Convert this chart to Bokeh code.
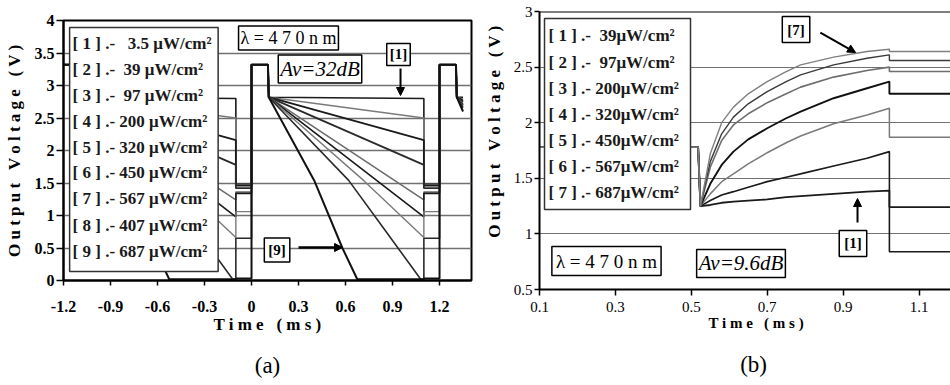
from bokeh.plotting import figure
from bokeh.layouts import row
from bokeh.models import (Range1d, FixedTicker, Label, BoxAnnotation, Arrow, NormalHead, Span,
                          LinearAxis)
from bokeh.embed import file_html
from bokeh.resources import INLINE

SERIF = "Liberation Serif"
NB = "\u00a0"

# ---------------- panel (a) data ----------------
A_XTICKS = [-1.2, -0.9, -0.6, -0.3, 0.0, 0.3, 0.6, 0.9, 1.2]
A_XLABELS = ["-1.2", "-0.9", "-0.6", "-0.3", "0", "0.3", "0.6", "0.9", "1.2"]
A_YTICKS = [0, 0.5, 1, 1.5, 2, 2.5, 3, 3.5, 4]
A_YLABELS = ["0", "0.5", "1", "1.5", "2", "2.5", "3", "3.5", "4"]
A_LEGEND = [
    "[ 1 ] .-" + NB * 3 + "3.5 μW/cm²",
    "[ 2 ] .-" + NB * 2 + "39 μW/cm²",
    "[ 3 ] .-" + NB * 2 + "97 μW/cm²",
    "[ 4 ] .- 200 μW/cm²",
    "[ 5 ] .- 320 μW/cm²",
    "[ 6 ] .- 450 μW/cm²",
    "[ 7 ] .- 567 μW/cm²",
    "[ 8 ] .- 407 μW/cm²",
    "[ 9 ] .- 687 μW/cm²",
]
A_PERIOD = 1.2          # ms
A_HIGH = 3.32           # reset pulse level (V)
A_PULSE_END = 0.105     # end of reset pulse within a period (ms)
A_DECAY_END = 1.1       # end of integration within a period (ms)
A_DECAY_T = [
    [0.11, 1.1],
    [0.11, 1.1],
    [0.11, 1.1],
    [0.11, 1.1],
    [0.11, 1.1],
    [0.11, 1.1],
    [0.11, 0.715, 1.1],
    [0.11, 0.62, 0.85, 1.08, 1.1],
    [0.11, 0.40, 0.58, 0.675, 1.1],
]
A_DECAY_V = [
    [2.82, 2.80],
    [2.82, 2.50],
    [2.82, 2.16],
    [2.82, 1.78],
    [2.82, 1.24],
    [2.82, 0.98],
    [2.82, 1.54, 0.66],
    [2.82, 1.54, 0.78, 0.02, 0.02],
    [2.82, 1.54, 0.50, 0.02, 0.02],
]
A_LOW = [1.48, 1.47, 1.46, 1.42, 1.36, 1.34, 1.06, 0.65, 0.03]
A_TAIL_T = 1.35
A_TAIL_V = [2.82, 2.79, 2.77, 2.75, 2.72, 2.70, 2.68, 2.66, 2.60]

# ---------------- panel (b) data ----------------
B_XTICKS = [0.1, 0.3, 0.5, 0.7, 0.9, 1.1]
B_XLABELS = ["0.1", "0.3", "0.5", "0.7", "0.9", "1.1"]
B_YTICKS = [0.5, 1, 1.5, 2, 2.5, 3]
B_YLABELS = ["0.5", "1", "1.5", "2", "2.5", "3"]
B_LEGEND = [
    "[ 1 ] .-" + NB * 2 + "39μW/cm²",
    "[ 2 ] .-" + NB * 2 + "97μW/cm²",
    "[ 3 ] .- 200μW/cm²",
    "[ 4 ] .- 320μW/cm²",
    "[ 5 ] .- 450μW/cm²",
    "[ 6 ] .- 567μW/cm²",
    "[ 7 ] .- 687μW/cm²",
]
B_PRE_T = [0.1, 0.518]
B_PRE_V = 1.78
B_RISE_T = [0.524, 0.55, 0.58, 0.611, 0.65, 0.70, 0.75, 0.788, 0.875, 0.963, 1.022]
B_RISE_V = [
    [1.25, 1.26, 1.28, 1.29, 1.30, 1.31, 1.33, 1.34, 1.36, 1.38, 1.39],
    [1.25, 1.30, 1.35, 1.38, 1.42, 1.47, 1.51, 1.54, 1.61, 1.68, 1.74],
    [1.25, 1.36, 1.47, 1.54, 1.63, 1.73, 1.82, 1.88, 1.99, 2.07, 2.13],
    [1.25, 1.45, 1.62, 1.74, 1.85, 1.95, 2.04, 2.10, 2.22, 2.31, 2.37],
    [1.25, 1.60, 1.84, 1.98, 2.08, 2.18, 2.26, 2.32, 2.41, 2.47, 2.50],
    [1.25, 1.65, 1.90, 2.05, 2.17, 2.28, 2.37, 2.43, 2.52, 2.58, 2.61],
    [1.25, 1.72, 2.00, 2.14, 2.26, 2.37, 2.46, 2.52, 2.59, 2.64, 2.66],
]
B_AFTER_V = [1.24, 0.84, 1.87, 2.26, 2.46, 2.56, 2.64]
B_END_T = 1.2

# ---------------- styles ----------------
A_COLORS = ["#1a1a1a", "#7a7a7a", "#1a1a1a", "#2a2a2a", "#6a6a6a", "#1a1a1a", "#7a7a7a", "#2a2a2a", "#111111"]
A_WIDTHS = [1.6, 1.6, 1.8, 1.8, 1.5, 1.6, 1.4, 1.6, 2.0]
B_COLORS = ["#1a1a1a", "#1a1a1a", "#7a7a7a", "#111111", "#6e6e6e", "#3a3a3a", "#808080"]
B_WIDTHS = [1.8, 1.6, 1.5, 1.9, 1.6, 1.4, 1.4]


def overrides(ticks, labels):
    return {t: l for t, l in zip(ticks, labels)}


def style_axes(p, bold_ticks, tick_size):
    for ax in (p.xaxis[0], p.yaxis[0]):
        ax.axis_line_width = 2
        ax.axis_line_color = "black"
        ax.major_tick_line_width = 1.5
        ax.major_tick_line_color = "black"
        ax.major_tick_in = 0
        ax.minor_tick_line_color = None
        ax.major_label_text_font = SERIF
        ax.major_label_text_font_size = tick_size
        ax.major_label_text_font_style = "bold" if bold_ticks else "normal"
        ax.major_label_text_color = "black"
        ax.axis_label_text_font = SERIF
        ax.axis_label_text_font_style = "bold"
        ax.axis_label_text_font_size = "17px"
        ax.axis_label_text_color = "black"
    p.xgrid.visible = False
    p.ygrid.grid_line_color = "#707070"
    p.background_fill_color = "white"
    p.border_fill_color = "white"


def box_label(p, x, y, text, size, style="normal", pad=3):
    p.add_layout(Label(x=x, y=y, text=text, text_font=SERIF, text_font_size=size,
                       text_font_style=style, text_align="center", text_baseline="middle",
                       text_color="black", background_fill_color="white",
                       border_line_color="black", border_line_width=1.5, padding=pad))


def panel_tag(p, text, standoff):
    # caption such as "(a)" below the time axis, drawn as a label-only axis
    ax = LinearAxis(ticker=FixedTicker(ticks=[], minor_ticks=[]), axis_label=text,
                    axis_line_color=None, major_tick_line_color=None, minor_tick_line_color=None,
                    major_tick_out=0, major_tick_in=0, major_label_text_font_size="0px",
                    axis_label_text_font=SERIF, axis_label_text_font_size="23px",
                    axis_label_text_font_style="normal", axis_label_text_color="black",
                    axis_label_standoff=standoff)
    p.add_layout(ax, "below")


# ================= figure (a) =================
pa = figure(width=480, height=385, x_range=Range1d(-1.2, 1.404), y_range=Range1d(0, 4),
            output_backend="svg", toolbar_location=None,
            min_border_left=63, min_border_right=9, min_border_top=20, min_border_bottom=105)
pa.frame_align = False
pa.outline_line_color = "black"
pa.outline_line_width = 2
style_axes(pa, True, "16px")
pa.xaxis.ticker = FixedTicker(ticks=A_XTICKS, minor_ticks=[])
pa.xaxis.major_label_overrides = overrides(A_XTICKS, A_XLABELS)
pa.yaxis.ticker = FixedTicker(ticks=A_YTICKS, minor_ticks=[])
pa.yaxis.major_label_overrides = overrides(A_YTICKS, A_YLABELS)
pa.ygrid.ticker = FixedTicker(ticks=A_YTICKS, minor_ticks=[])
pa.ygrid.grid_line_width = 1.5
pa.xaxis.axis_label = "T i m e" + NB * 3 + "( m s )"
pa.yaxis.axis_label = "O u t p u t" + NB * 3 + "V o l t a g e" + NB * 3 + "( V )"
pa.yaxis.major_tick_out = 7
pa.yaxis.major_label_standoff = 2
pa.yaxis.axis_label_standoff = 8
pa.xaxis.major_tick_out = 5
pa.xaxis.major_label_standoff = 15
pa.xaxis.axis_label_standoff = 0

for i in range(len(A_DECAY_T)):
    xs, ys = [], []
    for k in (-1, 0):
        o = k * A_PERIOD
        xs += [o, o + A_PULSE_END]
        ys += [A_HIGH, A_HIGH]
        xs += [o + t for t in A_DECAY_T[i]]
        ys += A_DECAY_V[i]
        xs += [o + A_DECAY_END, o + A_PERIOD]
        ys += [A_LOW[i], A_LOW[i]]
    o = A_PERIOD
    xs += [o, o + A_PULSE_END, o + A_DECAY_T[i][0], A_TAIL_T]
    ys += [A_HIGH, A_HIGH, A_DECAY_V[i][0], A_TAIL_V[i]]
    pa.line(xs, ys, line_color=A_COLORS[i], line_width=A_WIDTHS[i])

# legend box (a)
pa.add_layout(BoxAnnotation(left=-1.161, right=-0.213, bottom=0.138, top=3.892,
                            fill_color="white", fill_alpha=1.0, line_color="#333333",
                            line_width=1.5, line_alpha=1.0))
a_leg_y = [3.646, 3.246, 2.846, 2.446, 2.046, 1.654, 1.262, 0.846, 0.446]
for txt, yy in zip(A_LEGEND, a_leg_y):
    pa.add_layout(Label(x=-1.142, y=yy, text=txt, text_font=SERIF, text_font_size="17px",
                        text_font_style="bold", text_align="left", text_baseline="middle",
                        text_color="#1a1a1a"))

box_label(pa, 0.236, 3.731, "λ = 4 7 0 n m", "18px", pad=2)
box_label(pa, 0.437, 3.254, "Av=32dB", "21px", style="italic", pad=2)
box_label(pa, 0.938, 3.477, "[1]", "15px", style="bold", pad=3)
box_label(pa, 0.163, 0.469, "[9]", "15px", style="bold", pad=4)
pa.add_layout(Arrow(end=NormalHead(size=8, fill_color="black", line_color="black"),
                    x_start=0.951, y_start=3.262, x_end=0.951, y_end=2.846,
                    line_width=2, line_color="black"))
pa.add_layout(Arrow(end=NormalHead(size=8, fill_color="black", line_color="black"),
                    x_start=0.300, y_start=0.508, x_end=0.581, y_end=0.508,
                    line_width=2.5, line_color="black"))
panel_tag(pa, "(a)", 16)

# ================= figure (b) =================
pb = figure(width=470, height=385, x_range=Range1d(0.1, 1.183), y_range=Range1d(0.5, 3.0),
            output_backend="svg", toolbar_location=None,
            min_border_left=59, min_border_right=0, min_border_top=11, min_border_bottom=96)
pb.frame_align = False
pb.outline_line_color = None
style_axes(pb, False, "15px")
pb.xaxis.ticker = FixedTicker(ticks=B_XTICKS, minor_ticks=[])
pb.xaxis.major_label_overrides = overrides(B_XTICKS, B_XLABELS)
pb.yaxis.ticker = FixedTicker(ticks=B_YTICKS, minor_ticks=[])
pb.yaxis.major_label_overrides = overrides(B_YTICKS, B_YLABELS)
pb.ygrid.ticker = FixedTicker(ticks=B_YTICKS, minor_ticks=[])
pb.ygrid.grid_line_width = 1.2
pb.xaxis.axis_label = NB * 6 + "T i m e" + NB * 3 + "( m s )"
pb.xaxis.axis_label_text_font_size = "15px"
pb.yaxis.axis_label = NB * 9 + "O u t p u t" + NB * 3 + "V o l t a g e" + NB * 3 + "( V )"
pb.yaxis.major_tick_out = 5
pb.yaxis.major_label_standoff = 2
pb.yaxis.axis_label_standoff = 7
pb.xaxis.major_tick_out = 6
pb.xaxis.major_label_standoff = 6
pb.xaxis.axis_label_standoff = 0
pb.add_layout(Span(location=3.0, dimension="width", line_color="black", line_width=2))

for i in range(len(B_RISE_V)):
    xs = B_PRE_T + B_RISE_T + [B_RISE_T[-1], B_END_T]
    ys = [B_PRE_V, B_PRE_V] + B_RISE_V[i] + [B_AFTER_V[i], B_AFTER_V[i]]
    pb.line(xs, ys, line_color=B_COLORS[i], line_width=B_WIDTHS[i])

pb.add_layout(BoxAnnotation(left=0.1132, right=0.4979, bottom=1.219, top=2.937,
                            fill_color="white", fill_alpha=1.0, line_color="#333333",
                            line_width=1.5, line_alpha=1.0))
b_leg_y = [2.784, 2.541, 2.308, 2.074, 1.840, 1.606, 1.372]
for txt, yy in zip(B_LEGEND, b_leg_y):
    pb.add_layout(Label(x=0.1237, y=yy, text=txt, text_font=SERIF, text_font_size="17px",
                        text_font_style="bold", text_align="left", text_baseline="middle",
                        text_color="#1a1a1a"))

box_label(pb, 0.2765, 0.756, "λ = 4 7 0 n m", "19px", pad=4)
box_label(pb, 0.631, 0.734, "Av=9.6dB", "21px", style="italic", pad=2)
box_label(pb, 0.776, 2.838, "[7]", "15px", style="bold", pad=5)
box_label(pb, 0.926, 0.914, "[1]", "15px", style="bold", pad=5)
pb.add_layout(Arrow(end=NormalHead(size=8, fill_color="black", line_color="black"),
                    x_start=0.840, y_start=2.811, x_end=0.933, y_end=2.631,
                    line_width=2, line_color="black"))
pb.add_layout(Arrow(end=NormalHead(size=8, fill_color="black", line_color="black"),
                    x_start=0.938, y_start=1.103, x_end=0.938, y_end=1.318,
                    line_width=2, line_color="black"))
panel_tag(pb, NB * 3 + "(b)", 18)

layout = row(pa, pb)
open("out.html", "w").write(file_html(layout, INLINE))
